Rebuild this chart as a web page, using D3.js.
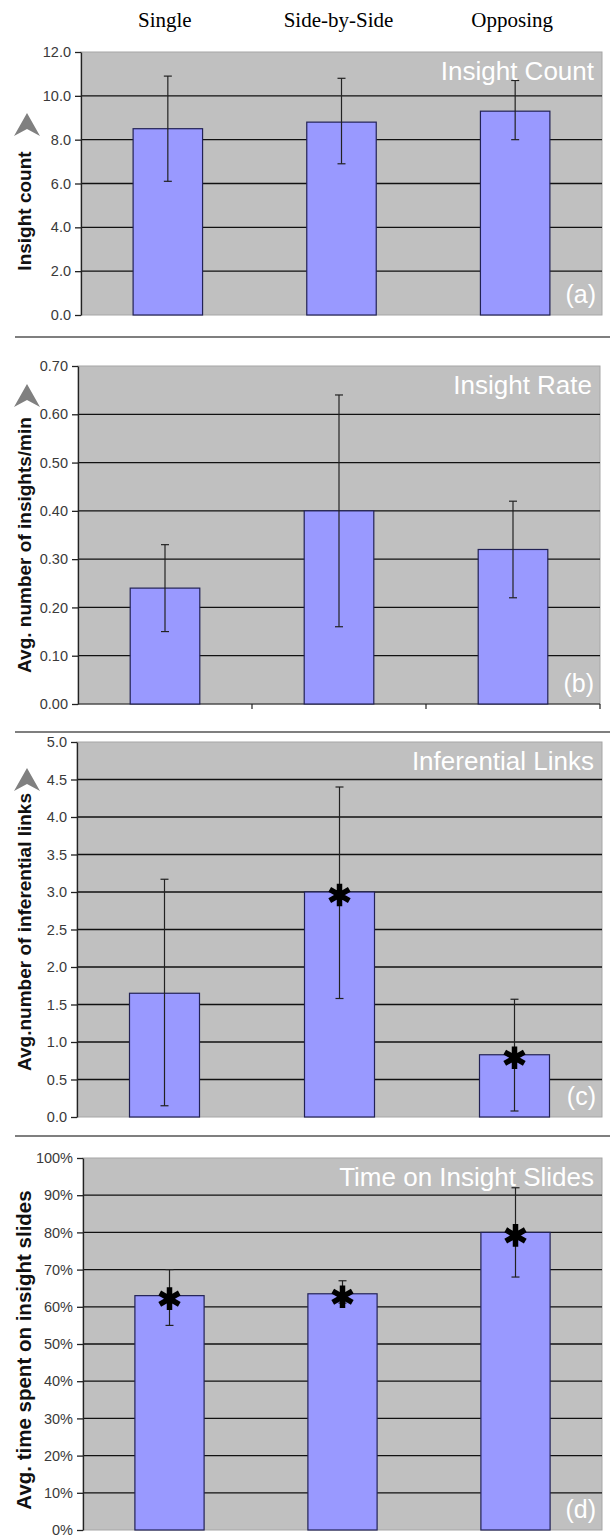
<!DOCTYPE html>
<html>
<head>
<meta charset="utf-8">
<script src="https://cdn.jsdelivr.net/npm/d3@7"></script>
<style>
body { margin: 0; background: #fff; }
svg { display: block; }
</style>
</head>
<body>
<div id="chart-area"></div>
<script>
// condition names shown across the top
const categories = ["Single", "Side-by-Side", "Opposing"];

// (a) insight count
const countMean = [8.5, 8.8, 9.3];
const countLow  = [6.1, 6.9, 8.0];
const countHigh = [10.9, 10.8, 10.7];

// (b) insight rate
const rateMean = [0.24, 0.40, 0.32];
const rateLow  = [0.15, 0.16, 0.22];
const rateHigh = [0.33, 0.64, 0.42];

// (c) inferential links
const linksMean = [1.65, 3.0, 0.83];
const linksLow  = [0.15, 1.58, 0.08];
const linksHigh = [3.17, 4.4, 1.57];
const linksStar = [false, true, true];

// (d) time on insight slides
const timeMean = [0.63, 0.635, 0.80];
const timeLow  = [0.55, 0.61, 0.68];
const timeHigh = [0.70, 0.67, 0.92];
const timeStar = [true, true, true];

const W = 610, H = 1535;

const svg = d3.select("#chart-area").append("svg")
    .attr("width", W)
    .attr("height", H);

const panels = [
  {mean: countMean, low: countLow, high: countHigh, star: [false,false,false],
   max: 12, step: 2, fmt: d3.format(".1f"), title: "Insight Count", tag: "(a)",
   ylab: "Insight count", labY: 211, top: 52, bottom: 315, left: 81, right: 602, arrow: 113, catTicks: false, labSize: 19},
  {mean: rateMean, low: rateLow, high: rateHigh, star: [false,false,false],
   max: 0.7, step: 0.1, fmt: d3.format(".2f"), title: "Insight Rate", tag: "(b)",
   ylab: "Avg. number of insights/min", labY: 545, top: 366, bottom: 704, left: 78, right: 600, arrow: 384, catTicks: true, labSize: 19},
  {mean: linksMean, low: linksLow, high: linksHigh, star: linksStar,
   max: 5, step: 0.5, fmt: d3.format(".1f"), title: "Inferential Links", tag: "(c)",
   ylab: "Avg.number of inferential links", labY: 932, top: 742, bottom: 1117, left: 77, right: 602, arrow: 768, catTicks: false, labSize: 19},
  {mean: timeMean, low: timeLow, high: timeHigh, star: timeStar,
   max: 1, step: 0.1, fmt: d3.format(".0%"), title: "Time on Insight Slides", tag: "(d)",
   ylab: "Avg. time spent on insight slides", labY: 1350, top: 1158, bottom: 1530, left: 83, right: 602, arrow: null, catTicks: false, labSize: 20.5}
];

// header category labels
const xHead = d3.scaleBand().domain(categories).range([81, 602]);
svg.append("g").selectAll("text")
  .data(categories)
  .enter().append("text")
    .attr("x", d => xHead(d) + xHead.bandwidth() / 2 - 3)
    .attr("y", 27)
    .attr("text-anchor", "middle")
    .style("font-family", "'Liberation Serif', 'Times New Roman', serif")
    .style("font-size", "21px")
    .text(d => d);

// separators between panels
[337, 732, 1136].forEach(y => {
  svg.append("line")
    .attr("x1", 15).attr("x2", W)
    .attr("y1", y).attr("y2", y)
    .attr("stroke", "#555").attr("stroke-width", 1.5);
});

panels.forEach(p => {
  const x = d3.scaleBand().domain(categories).range([p.left, p.right]).paddingInner(0.6).paddingOuter(0.3);
  const xb = d3.scaleBand().domain(categories).range([p.left, p.right]);
  const y = d3.scaleLinear().domain([0, p.max]).range([p.bottom, p.top]);
  const ticks = d3.range(0, p.max + p.step / 2, p.step);

  const g = svg.append("g");

  g.append("rect")
    .attr("x", p.left).attr("y", p.top)
    .attr("width", p.right - p.left).attr("height", p.bottom - p.top)
    .attr("fill", "#c0c0c0")
    .attr("stroke", "#a6a6a6").attr("stroke-width", 1);

  // gridlines
  g.append("g").selectAll("line")
    .data(ticks.slice(1, -1))
    .enter().append("line")
      .attr("x1", p.left).attr("x2", p.right)
      .attr("y1", d => y(d)).attr("y2", d => y(d))
      .attr("stroke", "#111").attr("stroke-width", 1.3);

  // y axis
  const ax = g.append("g")
    .attr("transform", "translate(" + p.left + ",0)")
    .call(d3.axisLeft(y).tickValues(ticks).tickFormat(p.fmt).tickSize(6).tickSizeOuter(0).tickPadding(4));
  ax.select(".domain").attr("stroke", "#222").attr("stroke-width", 1.3);
  ax.selectAll(".tick line").attr("stroke", "#222").attr("stroke-width", 1.3);
  ax.selectAll("text")
    .style("font-family", "'Liberation Sans', Arial, sans-serif")
    .style("font-size", "14.5px")
    .attr("fill", "#3a3a3a");

  // category boundary ticks on x axis
  if (p.catTicks) {
    g.append("g").selectAll("line")
      .data(categories)
      .enter().append("line")
        .attr("x1", d => xb(d) + xb.bandwidth()).attr("x2", d => xb(d) + xb.bandwidth())
        .attr("y1", p.bottom).attr("y2", p.bottom + 5)
        .attr("stroke", "#222").attr("stroke-width", 1.2);
    g.append("line")
      .attr("x1", p.left).attr("x2", p.right)
      .attr("y1", p.bottom).attr("y2", p.bottom)
      .attr("stroke", "#222").attr("stroke-width", 1.2);
  }

  const rows = categories.map((c, i) => ({c: c, m: p.mean[i], lo: p.low[i], hi: p.high[i], s: p.star[i]}));

  g.append("g").selectAll("rect")
    .data(rows)
    .enter().append("rect")
      .attr("x", d => x(d.c))
      .attr("y", d => y(d.m))
      .attr("width", x.bandwidth())
      .attr("height", d => y(0) - y(d.m))
      .attr("fill", "#9999ff")
      .attr("stroke", "#222255").attr("stroke-width", 1.2);

  // error bars
  const eb = g.append("g").selectAll("g")
    .data(rows)
    .enter().append("g")
      .attr("stroke", "#222").attr("stroke-width", 1.2);
  eb.append("line")
    .attr("x1", d => x(d.c) + x.bandwidth() / 2).attr("x2", d => x(d.c) + x.bandwidth() / 2)
    .attr("y1", d => y(d.lo)).attr("y2", d => y(d.hi));
  eb.append("line")
    .attr("x1", d => x(d.c) + x.bandwidth() / 2 - 4).attr("x2", d => x(d.c) + x.bandwidth() / 2 + 4)
    .attr("y1", d => y(d.lo)).attr("y2", d => y(d.lo));
  eb.append("line")
    .attr("x1", d => x(d.c) + x.bandwidth() / 2 - 4).attr("x2", d => x(d.c) + x.bandwidth() / 2 + 4)
    .attr("y1", d => y(d.hi)).attr("y2", d => y(d.hi));

  // significance stars
  g.append("g").selectAll("path")
    .data(rows.filter(d => d.s))
    .enter().append("path")
      .attr("transform", d => "translate(" + (x(d.c) + x.bandwidth() / 2) + "," + (y(d.m) + 3) + ")")
      .attr("d", d3.symbol(d3.symbolAsterisk, 360))
      .attr("fill", "none")
      .attr("stroke", "#000").attr("stroke-width", 5.5);

  // white titles
  g.append("text")
    .attr("x", p.right - 8).attr("y", p.top + 28)
    .attr("text-anchor", "end")
    .attr("fill", "#fff")
    .style("font-family", "'Liberation Sans', Arial, sans-serif")
    .style("font-size", "26px")
    .text(p.title);

  g.append("text")
    .attr("x", p.right - 6).attr("y", p.bottom - 12)
    .attr("text-anchor", "end")
    .attr("fill", "#fff")
    .style("font-family", "'Liberation Sans', Arial, sans-serif")
    .style("font-size", "25px")
    .text(p.tag);

  // y axis title
  g.append("text")
    .attr("transform", "translate(31," + p.labY + ") rotate(-90)")
    .attr("text-anchor", "middle")
    .attr("fill", "#111")
    .style("font-family", "'Liberation Sans', Arial, sans-serif")
    .style("font-weight", "bold")
    .style("font-size", p.labSize + "px")
    .text(p.ylab);

  // grey arrow above the axis title
  if (p.arrow !== null) {
    const a = p.arrow;
    g.append("path")
      .attr("d", "M27," + a + " L40," + (a + 23) + " L27," + (a + 16) + " L14," + (a + 23) + " Z")
      .attr("fill", "#808080");
  }
});
</script>
</body>
</html>
